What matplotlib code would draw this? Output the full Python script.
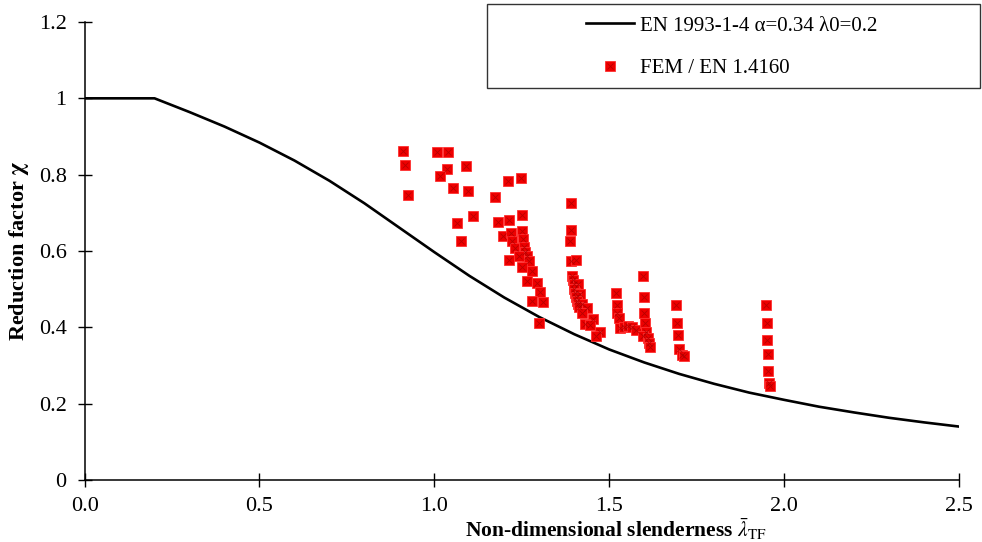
import numpy as np
import matplotlib
matplotlib.use("Agg")
import matplotlib.pyplot as plt
from matplotlib.patches import Rectangle
from matplotlib.legend_handler import HandlerTuple

# EN 1993-1-4 buckling curve (alpha=0.34, lambda0=0.2)
curve_x = [0.0, 0.2, 0.3, 0.4, 0.5, 0.6, 0.7, 0.8, 0.9, 1.0, 1.1, 1.2, 1.3,
           1.4, 1.5, 1.6, 1.7, 1.8, 1.9, 2.0, 2.1, 2.2, 2.3, 2.4, 2.5]
curve_y = [1.0, 1.0, 0.964, 0.926, 0.884, 0.837, 0.784, 0.725, 0.661, 0.597,
           0.535, 0.478, 0.427, 0.382, 0.342, 0.308, 0.278, 0.252, 0.229,
           0.210, 0.192, 0.177, 0.163, 0.151, 0.140]

# FEM results
fem_x = [0.911, 0.916, 0.925,
         1.007, 1.040, 1.036, 1.016, 1.090, 1.054, 1.095, 1.110, 1.064, 1.076,
         1.172, 1.210, 1.248, 1.250, 1.183, 1.213, 1.195, 1.218, 1.251, 1.223,
         1.254, 1.231, 1.257, 1.260, 1.265, 1.241, 1.213, 1.270, 1.252, 1.280,
         1.266, 1.294, 1.302, 1.280, 1.310, 1.298,
         1.390, 1.391, 1.389, 1.391, 1.406, 1.393, 1.395, 1.398, 1.411, 1.400,
         1.402, 1.417, 1.405, 1.408, 1.411, 1.423, 1.414, 1.436, 1.421, 1.454,
         1.431, 1.445, 1.473, 1.461,
         1.519, 1.521, 1.523, 1.528, 1.531, 1.542, 1.553, 1.565, 1.576,
         1.597, 1.598, 1.600, 1.602, 1.605, 1.596, 1.610, 1.613, 1.616,
         1.692, 1.694, 1.696, 1.699, 1.707, 1.714,
         1.949, 1.950, 1.952, 1.953, 1.955, 1.957, 1.960]
fem_y = [0.863, 0.826, 0.747,
         0.860, 0.860, 0.815, 0.797, 0.823, 0.764, 0.756, 0.693, 0.673, 0.627,
         0.741, 0.784, 0.792, 0.694, 0.676, 0.681, 0.638, 0.647, 0.653, 0.626,
         0.631, 0.608, 0.611, 0.598, 0.587, 0.586, 0.577, 0.574, 0.558, 0.547,
         0.521, 0.515, 0.492, 0.468, 0.466, 0.412,
         0.727, 0.654, 0.625, 0.573, 0.577, 0.535, 0.524, 0.513, 0.514, 0.501,
         0.489, 0.487, 0.479, 0.469, 0.460, 0.460, 0.453, 0.450, 0.438, 0.421,
         0.409, 0.406, 0.387, 0.376,
         0.490, 0.458, 0.438, 0.424, 0.398, 0.402, 0.404, 0.400, 0.393,
         0.534, 0.479, 0.438, 0.411, 0.389, 0.377, 0.371, 0.360, 0.349,
         0.459, 0.412, 0.381, 0.344, 0.328, 0.326,
         0.458, 0.411, 0.368, 0.330, 0.286, 0.253, 0.245]

x_ticks = [0.0, 0.5, 1.0, 1.5, 2.0, 2.5]
y_ticks = [0, 0.2, 0.4, 0.6, 0.8, 1.0, 1.2]
y_tick_labels = ["0", "0.2", "0.4", "0.6", "0.8", "1", "1.2"]

plt.rcParams['font.family'] = ['Liberation Serif', 'DejaVu Serif']
plt.rcParams['mathtext.fontset'] = 'stix'

fig = plt.figure(figsize=(9.82, 5.42), dpi=100)
ax = fig.add_axes([84.6 / 982, 1 - 480 / 542, (959 - 84.6) / 982, (480 - 22) / 542])

line, = ax.plot(curve_x, curve_y, color='black', lw=1.9, zorder=2)
sq, = ax.plot(fem_x, fem_y, ls='none', marker='s', ms=6.5, mfc='#ee0000',
              mec='#ff3030', mew=0.6, zorder=3)
xs, = ax.plot(fem_x, fem_y, ls='none', marker='x', ms=4.3, color='#a00000',
              mew=0.6, alpha=0.7, zorder=4)

ax.set_xlim(0, 2.5)
ax.set_ylim(0, 1.2)
ax.set_xticks(x_ticks)
ax.set_xticklabels(["%.1f" % v for v in x_ticks])
ax.set_yticks(y_ticks)
ax.set_yticklabels(y_tick_labels)
ax.tick_params(direction='inout', length=10, width=1.0, labelsize=16)
ax.tick_params(axis='y', pad=8)
ax.tick_params(axis='x', pad=7)
ax.spines['top'].set_visible(False)
ax.spines['right'].set_visible(False)
for s in ('left', 'bottom'):
    ax.spines[s].set_linewidth(1.1)

# axis titles (x title sits right of centre, as in the original)
fig.text(616 / 982, 1 - 529 / 542,
         r"Non-dimensional slenderness $\bar{\lambda}_{\mathrm{TF}}$",
         fontsize=15.5, fontweight='bold', ha='center', va='center')
fig.text(19 / 982, 1 - 251 / 542, r"Reduction factor $\mathbf{\chi}$",
         fontsize=16, fontweight='bold', rotation=90, ha='center', va='center')

# legend frame (Excel style box reaching past the plot area)
fig.patches.append(Rectangle((487 / 982, 1 - 88 / 542), (980 - 487) / 982,
                             84 / 542, transform=fig.transFigure,
                             fill=False, ec='#333333', lw=1.0))
fig.legend([line, (sq, xs)], ["EN 1993-1-4 α=0.34 λ0=0.2", "FEM / EN 1.4160"],
           handler_map={tuple: HandlerTuple(ndivide=1)},
           loc='center', bbox_to_anchor=(732 / 982, 1 - 47 / 542),
           frameon=False, fontsize=15, handlelength=2.3, handletextpad=0.3,
           labelspacing=1.1)

fig.savefig("out.png", dpi=100)
